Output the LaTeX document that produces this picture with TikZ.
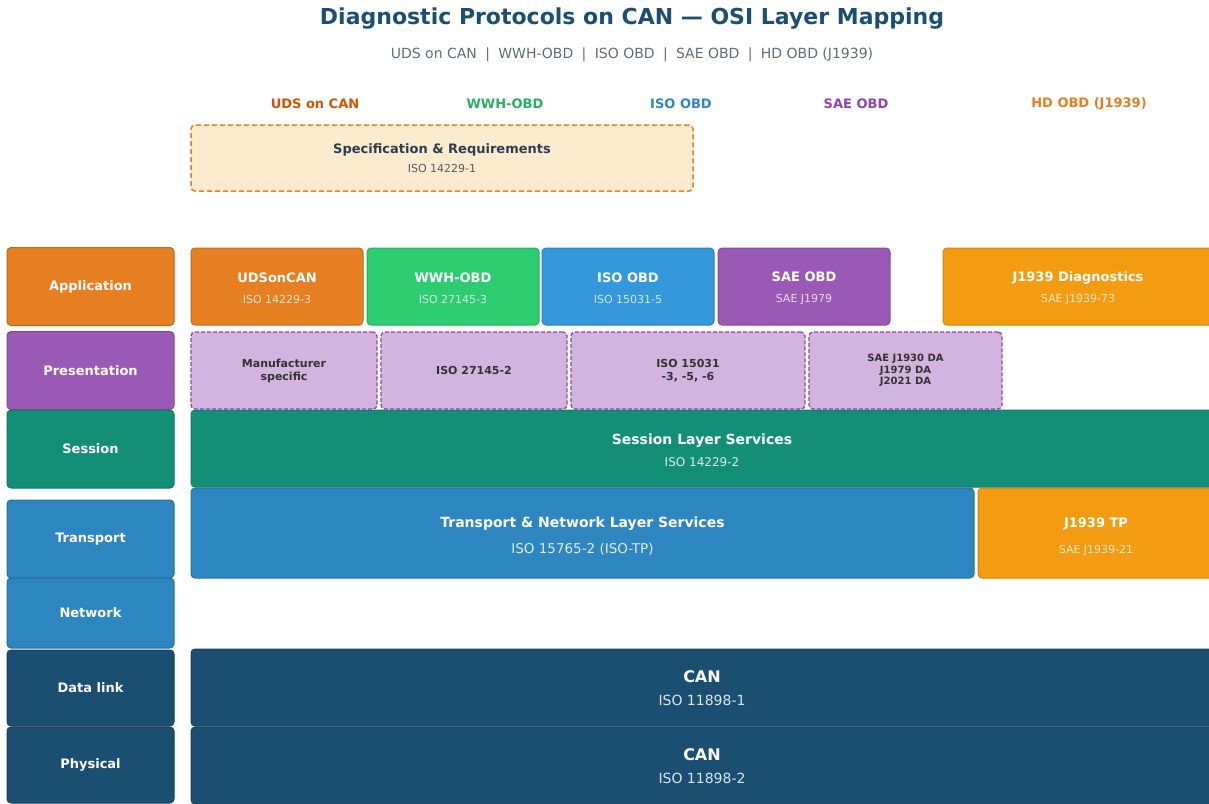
\documentclass[tikz,border=0pt]{standalone}
\usepackage{fontspec}
\setmainfont{DejaVu Sans}
\usetikzlibrary{positioning}

\definecolor{udsorange}{HTML}{E67E22}
\definecolor{udsdark}{HTML}{D35400}
\definecolor{wwhgreen}{HTML}{2ECC71}
\definecolor{wwhdark}{HTML}{27AE60}
\definecolor{isoblue}{HTML}{3498DB}
\definecolor{isodark}{HTML}{2E86C1}
\definecolor{saepurple}{HTML}{9B59B6}
\definecolor{saedark}{HTML}{8E44AD}
\definecolor{hdorange}{HTML}{F39C12}
\definecolor{presfill}{HTML}{D2B4DE}
\definecolor{sessteal}{HTML}{148F77}
\definecolor{tpblue}{HTML}{2E86C1}
\definecolor{canblue}{HTML}{1B4F72}
\definecolor{specfill}{HTML}{FDEBD0}
\definecolor{subgrey}{HTML}{5D6D7E}
\definecolor{inktext}{HTML}{2C3E50}
\definecolor{presink}{HTML}{333333}

% heading line of a protocol box (the strut drops the block a little)
\newcommand{\boxhead}[2][13]{{\bfseries\fontsize{#1}{15}\selectfont\rule{0pt}{14pt}#2}}
\newcommand{\boxnote}[2]{{\fontsize{11}{13}\selectfont\color{white!78!#1}#2}}

\begin{document}
\begin{tikzpicture}[
    x=1pt, y=-1pt,
    layer/.style={draw=#1!82!black, fill=#1, line width=1pt, rounded corners=4pt,
        minimum width=167pt, minimum height=78pt, inner sep=0pt,
        text=white, font=\bfseries\fontsize{13}{15}\selectfont},
    proto/.style={draw=#1!85!black, fill=#1, line width=1pt, rounded corners=4pt,
        minimum height=77pt, inner sep=0pt, align=center, text=white},
    pres/.style={draw=saedark, fill=presfill, dash pattern=on 4pt off 2pt, line width=1.3pt,
        rounded corners=4pt, minimum height=77pt, inner sep=0pt, align=center, text=presink,
        font=\bfseries\fontsize{11}{13}\selectfont},
    colhead/.style={font=\bfseries\fontsize{13}{15}\selectfont, text=#1}
]
\useasboundingbox (0,0) rectangle (1209,803);
\clip (0,0) rectangle (1209,803);

% title
\node[text=canblue, font=\bfseries\fontsize{22}{26}\selectfont] (title) at (632,19)
    {Diagnostic Protocols on CAN — OSI Layer Mapping};
\node[text=subgrey, font=\fontsize{14}{16}\selectfont] (subtitle) at (632,55)
    {UDS on CAN \;|\; WWH-OBD \;|\; ISO OBD \;|\; SAE OBD \;|\; HD OBD (J1939)};

% protocol columns
\node[colhead=udsdark] (hUDS) at (315,104) {UDS on CAN};
\node[colhead=wwhdark] (hWWH) at (505,104) {WWH-OBD};
\node[colhead=isodark] (hISO) at (681,104) {ISO OBD};
\node[colhead=saedark] (hSAE) at (856,104) {SAE OBD};
\node[colhead=udsorange] (hHD) at (1089,104) {HD OBD (J1939)};

\node[draw=udsorange, fill=specfill, dash pattern=on 5pt off 3pt, line width=1.5pt, rounded corners=4pt,
    minimum width=502pt, minimum height=66pt, align=center, text=inktext] (spec) at (442,158)
    {{\bfseries\fontsize{13}{15}\selectfont Specification \& Requirements}\\[7pt]
     {\fontsize{11}{13}\selectfont\color{black!65}ISO 14229-1}};

% OSI layers
\node[layer=udsorange] (lApp) at (90.5,286.5) {Application};
\node[layer=saepurple] (lPres) at (90.5,370.5) {Presentation};
\node[layer=sessteal] (lSess) at (90.5,449) {Session};
\node[layer=tpblue] (lTrans) at (90.5,539) {Transport};
\node[layer=tpblue, minimum height=70pt] (lNet) at (90.5,613) {Network};
\node[layer=canblue, minimum height=76pt] (lLink) at (90.5,688) {Data link};
\node[layer=canblue, minimum height=76pt] (lPhys) at (90.5,765) {Physical};

% application
\node[proto=udsorange, minimum width=172pt] (appUDS) at (277,286.5)
    {\boxhead{UDSonCAN}\\[9pt]\boxnote{udsorange}{ISO 14229-3}};
\node[proto=wwhgreen, minimum width=172pt] (appWWH) at (453,286.5)
    {\boxhead{WWH-OBD}\\[9pt]\boxnote{wwhgreen}{ISO 27145-3}};
\node[proto=isoblue, minimum width=172pt] (appISO) at (628,286.5)
    {\boxhead{ISO OBD}\\[9pt]\boxnote{isoblue}{ISO 15031-5}};
\node[proto=saepurple, minimum width=172pt] (appSAE) at (804,286.5)
    {\boxhead{SAE OBD}\\[9pt]\boxnote{saepurple}{SAE J1979}};
\node[proto=hdorange, minimum width=270pt] (appHD) at (1078,286.5)
    {\boxhead{J1939 Diagnostics}\\[9pt]\boxnote{hdorange}{SAE J1939-73}};

% presentation
\node[pres, minimum width=186pt] (presUDS) at (284,370.5) {Manufacturer\\specific};
\node[pres, minimum width=186pt] (presWWH) at (474,370.5) {ISO 27145-2};
\node[pres, minimum width=234pt] (presISO) at (688,370.5) {ISO 15031\\-3, -5, -6};
\node[pres, minimum width=193pt, font=\bfseries\fontsize{10}{11.5}\selectfont] (presSAE) at (905.5,370.5)
    {SAE J1930 DA\\J1979 DA\\J2021 DA};

% session
\node[proto=sessteal, minimum width=1022pt] (sess) at (702,448.5)
    {\boxhead[14]{Session Layer Services}\\[10pt]{\fontsize{12}{14}\selectfont\color{white!85!sessteal}ISO 14229-2}};

% transport & network
\node[proto=tpblue, minimum width=783pt, minimum height=90pt] (tp) at (582.5,533)
    {\boxhead[14]{\rule{0pt}{17pt}Transport \& Network Layer Services}\\[12pt]{\fontsize{13.5}{15}\selectfont\color{white!85!tpblue}ISO 15765-2 (ISO-TP)}};
\node[proto=hdorange, minimum width=236pt, minimum height=90pt] (tpHD) at (1096,533)
    {\boxhead{\rule{0pt}{17pt}J1939 TP}\\[14pt]\boxnote{hdorange}{SAE J1939-21}};

% data link & physical
\node[proto=canblue, minimum width=1022pt] (link) at (702,687.5)
    {\boxhead[16]{CAN}\\[11pt]{\fontsize{14}{16}\selectfont\color{white!85!canblue}ISO 11898-1}};
\node[proto=canblue, minimum width=1022pt] (phys) at (702,765.5)
    {\boxhead[16]{CAN}\\[11pt]{\fontsize{14}{16}\selectfont\color{white!85!canblue}ISO 11898-2}};
\end{tikzpicture}
\end{document}
